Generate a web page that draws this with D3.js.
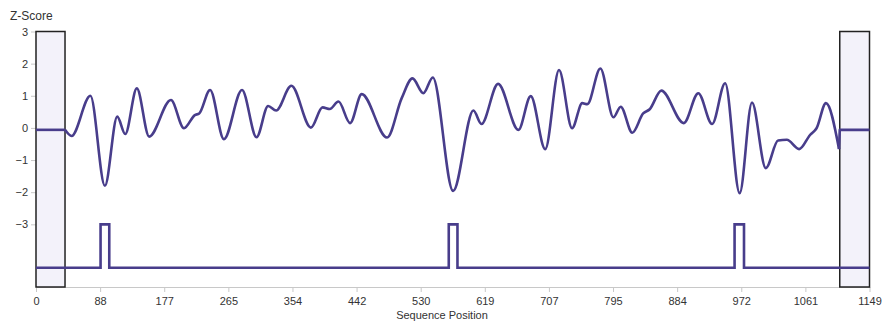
<!DOCTYPE html>
<html><head><meta charset="utf-8">
<script src="https://cdn.jsdelivr.net/npm/d3@7"></script>
<style>
html,body{margin:0;padding:0;background:#fff;}
svg{display:block;font-family:"Liberation Sans",Arial,sans-serif;}
</style></head>
<body><svg id="chart" width="883" height="322"></svg>
<script>
const seqLength = 1149;
const xTickValues = d3.range(14).map(i => i * seqLength / 13);
const yTickValues = [3, 2, 1, 0, -1, -2, -3];
const windowStarts = [0, 1108];
const windowEnds = [40, 1149];
const flatZ = -0.06;
const curvePos = [40,49,75,95,112,123,139,156,186,204,219,225,240,259,284,304,320,331,352,379,395,405,417,433,449,484,504,519,534,547,575,603,614,637,665,682,702,721,739,753,760,778,796,806,822,837,846,862,893,913,932,950,970,987,1006,1023,1035,1052,1067,1076,1089,1107];
const curveZ = [-0.06,-0.25,1.0,-1.8,0.35,-0.19,1.23,-0.27,0.87,-0.01,0.4,0.45,1.18,-0.35,1.18,-0.29,0.68,0.54,1.31,0.01,0.64,0.59,0.82,0.15,1.05,-0.3,0.92,1.54,1.08,1.57,-1.96,0.54,0.12,1.37,-0.06,0.99,-0.66,1.8,-0.01,0.77,0.74,1.85,0.33,0.66,-0.15,0.45,0.58,1.16,0.15,1.08,0.12,1.39,-2.03,0.79,-1.25,-0.39,-0.37,-0.66,-0.22,-0.01,0.77,-0.66];
const peakStarts = [89, 569, 963];
const peakEnds = [101, 581, 976];
const trackBase = -4.35;
const trackPeak = -3;

const svg = d3.select("#chart");
const margin = {left: 36, right: 13.5, top: 31.5, bottom: 35};
const W = 883, H = 322;
const x = d3.scaleLinear().domain([0, seqLength]).range([margin.left, W - margin.right]);
const y = d3.scaleLinear().domain([-4.95, 3]).range([H - margin.bottom, margin.top]);
const lineColor = "#483d8b";

// x axis
const xAxis = svg.append("g").attr("transform", `translate(0,${y(-4.95)})`)
  .call(d3.axisBottom(x).tickValues(xTickValues).tickFormat(d => Math.round(d)).tickSize(5).tickSizeOuter(0));
xAxis.select(".domain").attr("stroke", "#c8c8c8");
xAxis.selectAll(".tick line").attr("stroke", "#c8c8c8");
xAxis.selectAll("text").attr("fill", "#333").attr("font-size", 11).attr("dy", "0.9em");

// y axis
const yAxis = svg.append("g").attr("transform", `translate(${margin.left},0)`)
  .call(d3.axisLeft(y).tickValues(yTickValues).tickSize(5).tickPadding(3));
yAxis.select(".domain").remove();
yAxis.selectAll(".tick line").attr("stroke", "#c8c8c8");
yAxis.selectAll("text").attr("fill", "#333").attr("font-size", 11);

svg.append("text").attr("x", 10).attr("y", 20).attr("fill", "#333").attr("font-size", 12).text("Z-Score");
svg.append("text").attr("x", 442).attr("y", 319).attr("text-anchor", "middle").attr("fill", "#333").attr("font-size", 11).text("Sequence Position");

// window boxes
svg.selectAll("rect.win").data(windowStarts).join("rect").attr("class", "win")
  .attr("x", (d, i) => x(d)).attr("y", y(3))
  .attr("width", (d, i) => x(windowEnds[i]) - x(d)).attr("height", y(-4.95) - y(3))
  .attr("fill", "#f3f2fa").attr("stroke", "#222").attr("stroke-width", 1.5);

// main curve
const line = d3.line().x(d => x(d[0])).y(d => y(d[1]));
const pts = curvePos.map((p, i) => [p, curveZ[i]]);
svg.append("path").attr("d", line.curve(d3.curveMonotoneX)(pts))
  .attr("fill", "none").attr("stroke", lineColor).attr("stroke-width", 2.6).attr("stroke-linejoin", "round");

// flat segments in windows
const linLine = d3.line().x(d => x(d[0])).y(d => y(d[1]));
const leftFlat = [[windowStarts[0], flatZ], [windowEnds[0], flatZ]];
const rightFlat = [[curvePos[curvePos.length - 1], curveZ[curveZ.length - 1]], [windowStarts[1], flatZ], [windowEnds[1], flatZ]];
[leftFlat, rightFlat].forEach(seg => {
  svg.append("path").attr("d", linLine(seg)).attr("fill", "none")
    .attr("stroke", lineColor).attr("stroke-width", 2.6).attr("stroke-linejoin", "round");
});

// peak track
const track = [[0, trackBase]];
peakStarts.forEach((s, i) => {
  track.push([s, trackBase], [s, trackPeak], [peakEnds[i], trackPeak], [peakEnds[i], trackBase]);
});
track.push([seqLength, trackBase]);
svg.append("path").attr("d", linLine(track)).attr("fill", "none")
  .attr("stroke", lineColor).attr("stroke-width", 2.6);
</script></body></html>
